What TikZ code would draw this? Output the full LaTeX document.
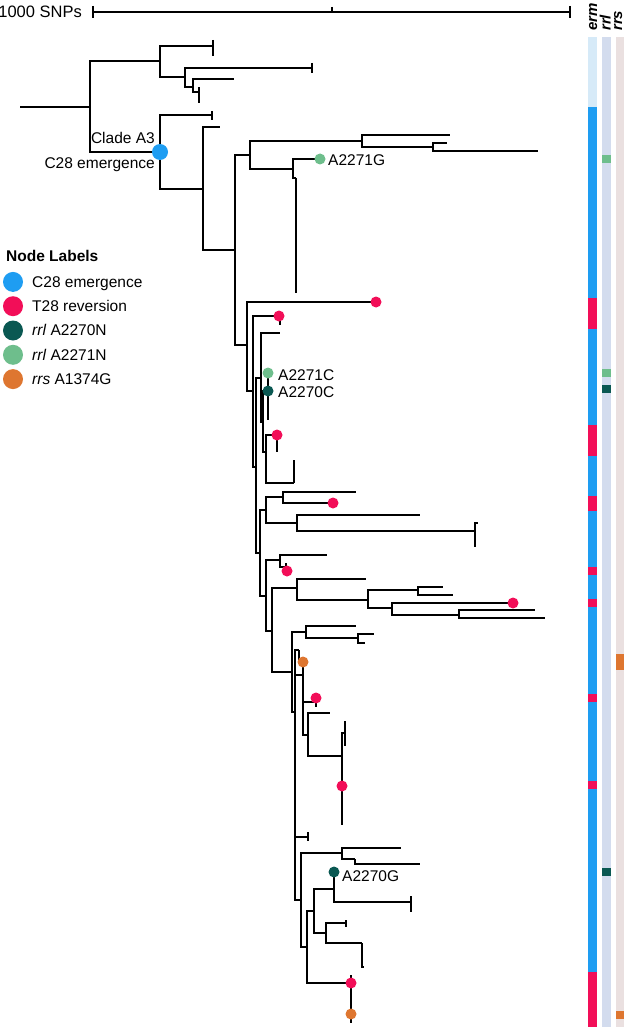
\documentclass[tikz,border=0pt]{standalone}
\usepackage{fontspec}
\setmainfont{Liberation Sans}
\usetikzlibrary{positioning}
\definecolor{cblue}{RGB}{30,157,242}
\definecolor{cred}{RGB}{242,14,88}
\definecolor{cteal}{RGB}{10,88,82}
\definecolor{cgreen}{RGB}{110,190,140}
\definecolor{corange}{RGB}{222,118,48}
\definecolor{ermbg}{RGB}{214,234,248}
\definecolor{rrlbg}{RGB}{211,220,238}
\definecolor{rrsbg}{RGB}{234,224,224}
\begin{document}
\begin{tikzpicture}[x=1pt,y=-1pt,
  branch/.style={line width=1.3pt},
  dot/.style={circle,inner sep=0pt,minimum size=11pt},
  lab/.style={font=\fontsize{15.5}{18}\selectfont,inner sep=0pt},
  gene/.style={font=\fontsize{15}{18}\selectfont\bfseries\itshape,inner sep=0pt,rotate=90,anchor=base west}]
\useasboundingbox (0,0) rectangle (625,1027);

% scale bar
\node[lab,font=\fontsize{16.5}{18}\selectfont,anchor=base east] (snps) at (82,18) {1000 SNPs};
\draw[branch] (93,6) -- (93,18) (93,12) -- (570,12) (570,6) -- (570,18) (332,7) -- (332,12);

% tree
\draw[branch] (20,107) -- (90,107);
\foreach \px/\py/\cx/\cy in {
  90/107/160/61, 90/107/160/152,
  160/61/213/46, 160/61/185/77, 185/77/312/68, 185/77/193/87,
  193/87/234/79, 193/87/199/92, 199/92/199/87, 199/92/199/103,
  160/152/212/115, 160/152/203/189, 203/189/220/127, 203/189/235/250,
  235/250/250/155, 235/250/247/345,
  250/155/362/141, 250/155/293/169, 362/141/450/135, 362/141/433/147,
  433/147/447/143, 433/147/538/151, 293/169/320/159, 293/169/296/178,
  247/345/376/302, 247/345/253/391, 253/391/280/316, 253/391/256/467,
  256/467/261/378, 261/378/280/333, 261/378/263/422, 263/422/268/391,
  263/422/266/452, 266/452/277/435, 266/452/294/483,
  256/467/260/553, 260/553/266/510, 260/553/266/596,
  266/510/283/497, 266/510/297/523, 283/497/356/492, 283/497/333/503,
  297/523/420/515, 297/523/475/531, 475/531/478/523, 475/531/475/547,
  266/596/280/560, 266/596/272/631, 280/560/327/555, 280/560/286/567,
  272/631/297/588, 272/631/292/672, 297/588/366/579, 297/588/368/600,
  368/600/418/590, 368/600/392/608, 418/590/443/587, 418/590/453/595,
  392/608/513/603, 392/608/459/615, 459/615/535/610, 459/615/545/618,
  292/672/306/632, 292/672/295/712, 306/632/356/626, 306/632/358/638,
  358/638/374/634, 358/638/365/643,
  295/712/299/650, 295/712/303/675, 295/712/309/837, 295/712/301/900,
  303/675/303/658, 303/675/316/702, 303/675/308/735,
  308/735/330/713, 308/735/342/756, 342/756/345/733, 342/756/342/825,
  301/900/342/853, 301/900/307/947, 342/853/401/848, 342/853/355/859,
  355/859/420/864, 307/947/314/911, 307/947/351/983,
  314/911/334/889, 314/911/326/933, 334/889/334/870, 334/889/411/902,
  326/933/346/923, 326/933/362/943, 362/943/364/967}
  \draw[branch] (\px,\py) |- (\cx,\cy);
% collapsed tips
\foreach \x/\ya/\yb in {213/40/56, 312/63/73, 212/111/120, 296/178/293,
  268/373/420, 277/430/452, 294/460/483, 280/311/325, 333/498/508,
  286/563/573, 299/650/660, 316/695/707, 345/721/746, 308/832/841,
  411/896/912, 346/920/927, 351/975/1023}
  \draw[branch] (\x,\ya) -- (\x,\yb);

% node labels
\node[dot,fill=cblue,minimum size=16pt] (c28) at (160,152) {};
\node[lab,anchor=base east] (cladeA3) at (155,144) {Clade A3};
\node[lab,anchor=base east] (c28lab) at (155,169) {C28 emergence};
\node[dot,fill=cgreen] (g2271) at (320,159) {};
\node[lab,anchor=base west] at (328,166) {A2271G};
\node[dot,fill=cgreen] (c2271) at (268,373) {};
\node[lab,anchor=base west] at (278,380) {A2271C};
\node[dot,fill=cteal] (c2270) at (268,391) {};
\node[lab,anchor=base west] at (278,397) {A2270C};
\node[dot,fill=cteal] (g2270) at (334,872) {};
\node[lab,anchor=base west] at (342,881) {A2270G};
\foreach \x/\y [count=\i] in {376/302, 279/316, 277/435, 333/503, 287/571,
  513/603, 316/698, 342/786, 351/983}
  \node[dot,fill=cred] (t28\i) at (\x,\y) {};
\node[dot,fill=corange] (o1) at (303,662) {};
\node[dot,fill=corange] (o2) at (351,1014) {};

% legend
\node[lab,anchor=base west,font=\fontsize{15.5}{18}\selectfont\bfseries] (legtitle) at (6,261) {Node Labels};
\foreach \c/\t [count=\i] in {cblue/C28 emergence, cred/T28 reversion,
  cteal/\textit{rrl} A2270N, cgreen/\textit{rrl} A2271N, corange/\textit{rrs} A1374G}
  \node[dot,fill=\c,minimum size=20pt] (leg\i) at (13,{257.6+24.3*\i}) {}
    node[lab,anchor=base west] at (32,{262.9+24.3*\i}) {\t};

% gene bars
\fill[ermbg] (588,37) rectangle (597,1027);
\fill[cblue] (588,107) rectangle (597,1027);
\foreach \a/\b in {298/329, 425/456, 496/511, 567/575, 599/607, 694/702, 781/789, 972/1027}
  \fill[cred] (588,\a) rectangle (597,\b);
\fill[rrlbg] (602,37) rectangle (611,1027);
\fill[cgreen] (602,155) rectangle (611,163);
\fill[cgreen] (602,369) rectangle (611,377);
\fill[cteal] (602,385) rectangle (611,393);
\fill[cteal] (602,868) rectangle (611,876);
\fill[rrsbg] (616,37) rectangle (624,1027);
\fill[corange] (616,654) rectangle (624,670);
\fill[corange] (616,1011) rectangle (624,1019);
\node[gene] (erm) at (597,31) {erm};
\node[gene] (rrl) at (610.5,31) {rrl};
\node[gene] (rrs) at (622,31) {rrs};
\end{tikzpicture}
\end{document}
